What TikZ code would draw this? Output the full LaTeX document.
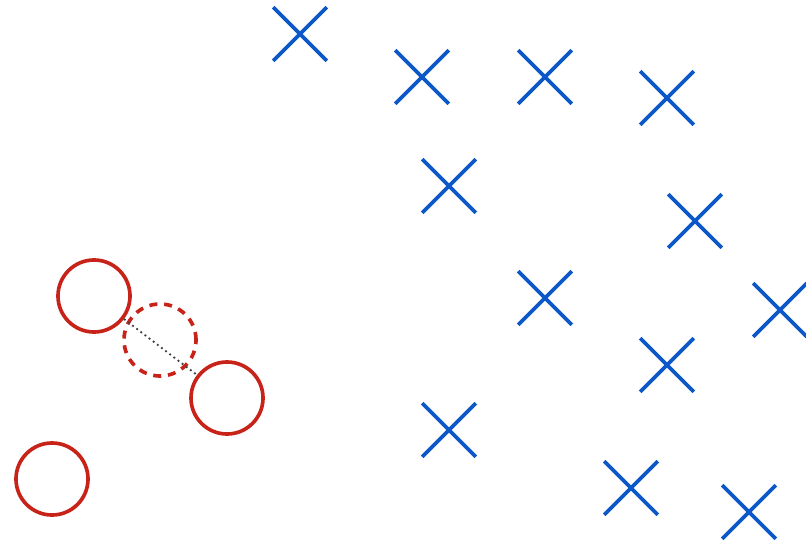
\documentclass[tikz,border=0pt]{standalone}
\usepackage{tikz}
\usepackage{xcolor}
\usetikzlibrary{shapes.misc, positioning}

\definecolor{ptred}{RGB}{200,35,25}
\definecolor{ptblue}{RGB}{12,88,200}

\begin{document}
\begin{tikzpicture}[
  x=0.025cm, y=-0.025cm,
  sample/.style={circle, draw=ptred, line width=2.6pt, minimum size=1.8cm, inner sep=0pt},
  synth/.style={sample, dash pattern=on 0.2cm off 0.17cm},
  other/.style={cross out, draw=ptblue, line width=2.6pt, minimum size=1.25cm, inner sep=0pt},
  link/.style={draw=black!75, line width=1.3pt, dash pattern=on 1.3pt off 2.4pt}
]
  \useasboundingbox (0,0) rectangle (806,543);

  % minority samples
  \node [sample] (a) at (94,296) {};
  \node [sample] (c) at (227,398) {};
  \node [sample] (d) at (52,479) {};
  \node [synth] (b) at (160,340) {};

  \draw [link] (a) -- (c);

  % majority samples
  \node [other] (m1) at (300,34) {};
  \node [other] (m2) at (422,77) {};
  \node [other] (m3) at (545,77) {};
  \node [other] (m4) at (667,98) {};
  \node [other] (m5) at (449,186) {};
  \node [other] (m6) at (695,221) {};
  \node [other] (m7) at (545,298) {};
  \node [other] (m8) at (780,310) {};
  \node [other] (m9) at (667,365) {};
  \node [other] (m10) at (449,430) {};
  \node [other] (m11) at (631,488) {};
  \node [other] (m12) at (749,512) {};
\end{tikzpicture}
\end{document}
